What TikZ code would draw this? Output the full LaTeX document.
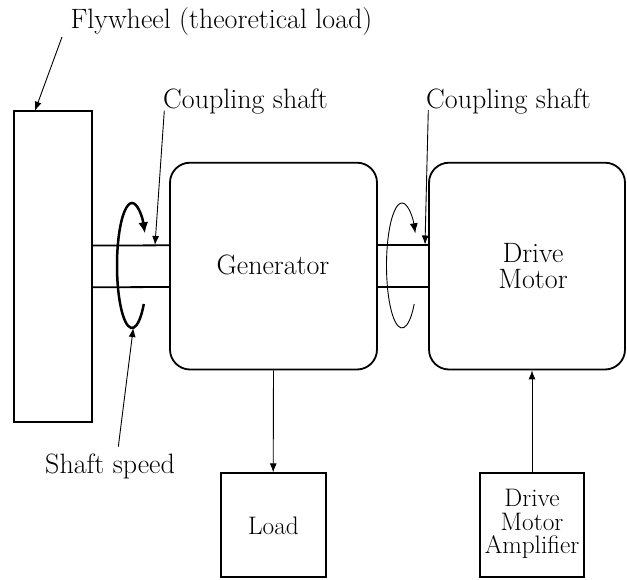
\documentclass[tikz,border=0pt]{standalone}
\usetikzlibrary{arrows.meta,calc}
\begin{document}
\begin{tikzpicture}[x=1pt,y=1pt,
  box/.style={draw,line width=1.8pt,inner sep=0pt},
  rbox/.style={box,rounded corners=20pt},
  thin line/.style={line width=0.9pt},
  tip/.style={-{Latex[length=9pt,width=7pt]}},
  bigtxt/.style={font=\fontsize{28}{25.5}\selectfont,inner sep=0pt},
  smalltxt/.style={font=\fontsize{25.3}{23.5}\selectfont,inner sep=0pt,align=center}]
\useasboundingbox (0,0) rectangle (627,579);
% boxes
\node[box,minimum width=78pt,minimum height=311.3pt] (fly) at (53,312.6) {};
\node[rbox,minimum width=207pt,minimum height=206.8pt] (gen) at (273.5,312.9) {};
\node[rbox,minimum width=196pt,minimum height=206.8pt] (mot) at (527,312.9) {};
\node[box,minimum width=105pt,minimum height=104pt] (load) at (273.2,53.7) {};
\node[box,minimum width=104pt,minimum height=104pt] (amp) at (532,53.7) {};
% texts
\node[bigtxt,anchor=base] (gentxt) at (273,304) {Generator};
\node[bigtxt,align=center] (mottxt) at (533,313) {Drive\\Motor};
\node[smalltxt] (loadtxt) at (273.5,53) {Load};
\node[smalltxt] (amptxt) at (532,55) {Drive\\Motor\\Amplifier};
\node[bigtxt,anchor=base] (flytxt) at (221.5,550.2) {Flywheel (theoretical load)};
\node[bigtxt,anchor=base west] (cs1) at (163,470) {Coupling shaft};
\node[bigtxt,anchor=base west] (cs2) at (426,470) {Coupling shaft};
\node[bigtxt,anchor=base west] (sstxt) at (45,105.6) {Shaft speed};
% shafts
\draw[line width=1.8pt] ([yshift=20.8pt]fly.east) -- ([yshift=20.8pt]gen.west);
\draw[line width=1.8pt] ([yshift=-20.9pt]fly.east) -- ([yshift=-20.9pt]gen.west);
\draw[line width=1.8pt] ([yshift=20.8pt]gen.east) -- ([yshift=20.8pt]mot.west);
\draw[line width=1.8pt] ([yshift=-20.9pt]gen.east) -- ([yshift=-20.9pt]mot.west);
% rotation arrows
\coordinate (rot1) at (132,313.5);
\coordinate (rot2) at (402,313.5);
\draw[line width=2.5pt,-{Latex[length=11pt,width=10pt]}] ($(rot1)+(-38:15 and 62.5)$) arc[start angle=-38,end angle=-329,x radius=15,y radius=62.5];
\draw[thin line,-{Latex[length=10pt,width=8pt]}] ($(rot2)+(-38:15.5 and 62.5)$) arc[start angle=-38,end angle=-329,x radius=15.5,y radius=62.5];
% connectors
\draw[thin line,tip] (gen.south) -- (load.north);
\draw[thin line,tip] (amp.north) -- (amp.north |- mot.south);
\coordinate (flyfrom) at (62,542);
\coordinate (flyto) at (35,468.3);
\draw[thin line,tip] (flyfrom) -- (flyto);
\coordinate (cs1from) at (164.3,468.3);
\coordinate (cs1to) at (155,334);
\draw[thin line,tip] (cs1from) -- (cs1to);
\coordinate (cs2from) at (428.3,469);
\coordinate (cs2to) at (425,334.5);
\draw[thin line,tip] (cs2from) -- (cs2to);
\coordinate (ssfrom) at (118.3,132.3);
\coordinate (ssto) at (133.3,251);
\draw[thin line,tip] (ssfrom) -- (ssto);
\end{tikzpicture}
\end{document}
